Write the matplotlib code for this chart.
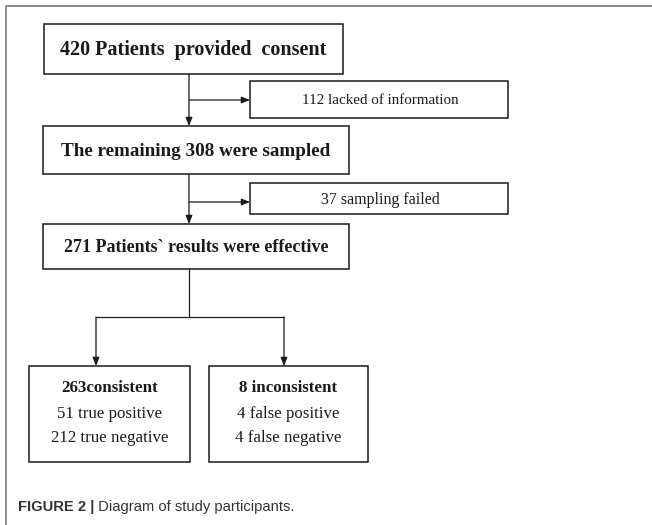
"""Flow diagram of study participants."""

import matplotlib

matplotlib.use("Agg")
import matplotlib.pyplot as plt
from matplotlib.patches import Rectangle

W, H = 652, 525

# content
main_labels = [
    "420 Patients  provided  consent",
    "The remaining 308 were sampled",
    "271 Patients` results were effective",
]
main_sizes = [14.5, 13.8, 13.0]
side_labels = ["112 lacked of information", "37 sampling failed"]
split_titles = ["263consistent", "8 inconsistent"]
split_lines = [
    ["51 true positive", "212 true negative"],
    ["4 false positive", "4 false negative"],
]
caption_bold = "FIGURE 2 |"
caption_rest = " Diagram of study participants."

# layout in pixels (x0, y0, x1, y1), y going down
main_boxes = [(44, 24, 343, 74), (43, 126, 349, 174), (43, 224, 349, 269)]
side_boxes = [(250, 81, 508, 118), (250, 183, 508, 214)]
split_boxes = [(29, 366, 190, 462), (209, 366, 368, 462)]
trunk_x = 189
branch_y = [100, 202]
fork_y = 317

SERIF = ["Liberation Serif", "DejaVu Serif"]
SANS = ["Liberation Sans", "DejaVu Sans"]
INK = "#1a1a1a"


def box(ax, b, lw=1.1):
    x0, y0, x1, y1 = b
    ax.add_patch(Rectangle((x0, y0), x1 - x0, y1 - y0, fill=False,
                           edgecolor=INK, linewidth=lw))


def arrow(ax, x0, y0, x1, y1):
    ax.annotate("", xy=(x1, y1), xytext=(x0, y0),
                arrowprops=dict(arrowstyle="-|>,head_length=0.5,head_width=0.2",
                                color=INK, lw=0.9, shrinkA=0, shrinkB=0))


fig = plt.figure(figsize=(W / 100, H / 100), dpi=100)
ax = fig.add_axes([0, 0, 1, 1])
ax.set_xlim(0, W)
ax.set_ylim(H, 0)
ax.axis("off")

# outer frame (top and left edges)
ax.plot([6, 6, W], [H, 6, 6], color="#8a8a8a", lw=1.4, solid_capstyle="butt")

for b, label, fs in zip(main_boxes, main_labels, main_sizes):
    box(ax, b)
    ax.text((b[0] + b[2]) / 2, (b[1] + b[3]) / 2 + 1, label, ha="center",
            va="center", fontsize=fs, fontweight="bold", family=SERIF,
            color=INK)

for b, label, fs in zip(side_boxes, side_labels, [10.8, 11.5]):
    box(ax, b)
    ax.text((b[0] + b[2]) / 2 + 1, (b[1] + b[3]) / 2 + 1, label, ha="center",
            va="center", fontsize=fs, family=SERIF, color=INK)

# trunk and side branches
for i in range(2):
    top = main_boxes[i][3]
    bottom = main_boxes[i + 1][1]
    arrow(ax, trunk_x, top, trunk_x, bottom)
    arrow(ax, trunk_x, branch_y[i], side_boxes[i][0], branch_y[i])

# fork to the two result boxes
ax.plot([trunk_x, trunk_x], [main_boxes[2][3], fork_y], color=INK, lw=0.9)
left_x, right_x = 96, 284
ax.plot([left_x, right_x], [fork_y, fork_y], color=INK, lw=0.9)
for x in (left_x, right_x):
    arrow(ax, x, fork_y, x, split_boxes[0][1])

for b, title, lines in zip(split_boxes, split_titles, split_lines):
    box(ax, b)
    cx = (b[0] + b[2]) / 2
    ax.text(cx, b[1] + 22, title, ha="center", va="center", fontsize=12.2,
            fontweight="bold", family=SERIF, color=INK)
    for k, line in enumerate(lines):
        ax.text(cx, b[1] + 48 + k * 24, line, ha="center", va="center",
                fontsize=12.2, family=SERIF, color=INK)

# caption
t1 = ax.text(18, 507, caption_bold, ha="left", va="center", fontsize=10.6,
             fontweight="bold", family=SANS, color="#333333")
fig.canvas.draw()
ext = t1.get_window_extent(fig.canvas.get_renderer())
x_end = ax.transData.inverted().transform((ext.x1, ext.y0))[0]
ax.text(x_end, 507, caption_rest, ha="left", va="center", fontsize=10.6,
        family=SANS, color="#333333")

fig.savefig("out.png", dpi=100)
